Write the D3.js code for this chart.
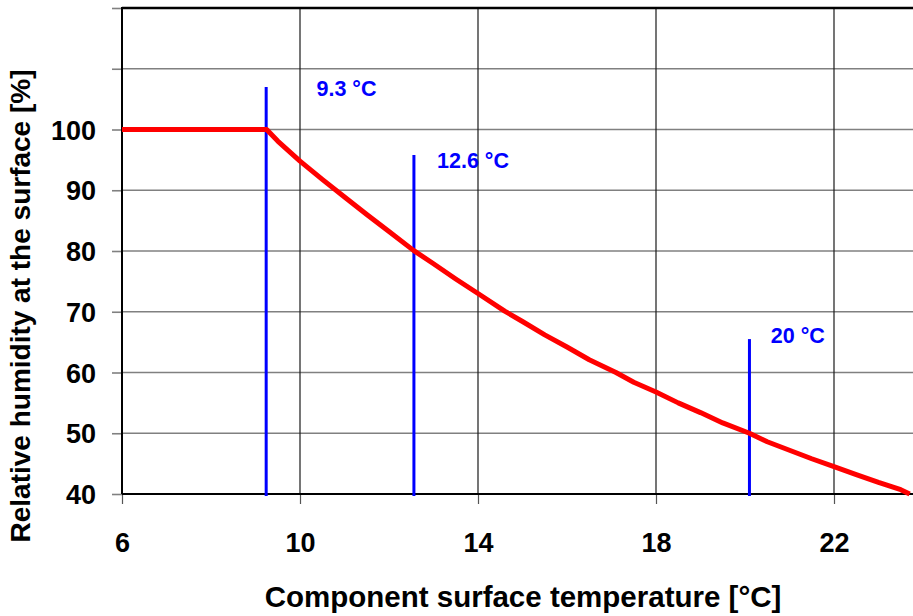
<!DOCTYPE html>
<html>
<head>
<meta charset="utf-8">
<script src="https://cdn.jsdelivr.net/npm/d3@7"></script>
<style>
  html, body { margin: 0; padding: 0; background: #fff; overflow: hidden; }
  svg { display: block; font-family: Arial, "Liberation Sans", sans-serif; }
</style>
</head>
<body>
<svg id="chart" width="913" height="616"></svg>
<script>
// ---- data ----
const xTicks = [6, 10, 14, 18, 22];
const yTicks = [40, 50, 60, 70, 80, 90, 100, 110, 120];
const yTickLabels = ["40", "50", "60", "70", "80", "90", "100", "", ""];
const temperature = [6, 9.25, 9.5, 10, 10.5, 11, 11.5, 12, 12.55, 13, 13.5, 14, 14.6, 15, 15.5, 16, 16.5, 17.1, 17.5, 18, 18.5, 19, 19.5, 20.1, 20.5, 21, 21.5, 22, 22.5, 23, 23.5, 23.7];
const humidity    = [100, 100, 98.1, 94.8, 91.8, 88.9, 86.0, 83.2, 80.1, 77.9, 75.4, 73.0, 70.1, 68.4, 66.2, 64.2, 62.1, 60.0, 58.4, 56.8, 55.0, 53.4, 51.7, 50.0, 48.6, 47.2, 45.8, 44.5, 43.2, 41.9, 40.7, 40.0];
const markerTemps = [9.24, 12.56, 20.1];
const markerTops  = [107, 95.8, 65.5];
const markerLabels = ["9.3 °C", "12.6 °C", "20 °C"];
const labelTemps = [10.37, 13.08, 20.58];
const labelHumidity = [105.5, 93.6, 64.9];
const xTitle = "Component surface temperature [°C]";
const yTitle = "Relative humidity at the surface [%]";

// ---- layout ----
const svg = d3.select("#chart");
const mLeft = 122, mTop = 8, mBottom = 494, mRight = 923;
const x = d3.scaleLinear().domain([6, 24]).range([mLeft, mRight]);
const y = d3.scaleLinear().domain([40, 120]).range([mBottom, mTop]);
const FONT = "Arial, 'Liberation Sans', sans-serif";

// horizontal grid
svg.append("g").selectAll("line").data(yTicks.filter(v => v > 40 && v < 120)).join("line")
  .attr("x1", mLeft).attr("x2", 913)
  .attr("y1", d => y(d)).attr("y2", d => y(d))
  .attr("stroke", "#808080").attr("stroke-width", 1.6);

// vertical grid
svg.append("g").selectAll("line").data(xTicks.filter(v => v > 6)).join("line")
  .attr("x1", d => x(d)).attr("x2", d => x(d))
  .attr("y1", mTop).attr("y2", mBottom)
  .attr("stroke", "#1a1a1a").attr("stroke-width", 1.2);

// axes
const yAxis = d3.axisLeft(y).tickValues(yTicks).tickSize(10).tickFormat((d, i) => yTickLabels[i]).tickPadding(16);
const gy = svg.append("g").attr("transform", `translate(${mLeft},0)`).call(yAxis);
gy.select(".domain").remove();
gy.selectAll(".tick line").attr("stroke", "#808080").attr("stroke-width", 1.6);
gy.selectAll(".tick text").attr("font-size", 27).attr("font-weight", "bold").attr("fill", "#000")
  .attr("font-family", FONT).attr("dy", "0.36em");

const xAxis = d3.axisBottom(x).tickValues(xTicks).tickSize(10).tickFormat(d3.format("d")).tickPadding(29);
const gx = svg.append("g").attr("transform", `translate(0,${mBottom})`).call(xAxis);
gx.select(".domain").remove();
gx.selectAll(".tick line").attr("stroke", "#555").attr("stroke-width", 1.2);
gx.selectAll(".tick text").attr("font-size", 27).attr("font-weight", "bold").attr("fill", "#000")
  .attr("font-family", FONT);

// frame lines
svg.append("line").attr("x1", mLeft).attr("x2", 913).attr("y1", mTop).attr("y2", mTop)
  .attr("stroke", "#000").attr("stroke-width", 2.5);
svg.append("line").attr("x1", mLeft).attr("x2", 913).attr("y1", mBottom).attr("y2", mBottom)
  .attr("stroke", "#000").attr("stroke-width", 2);
svg.append("line").attr("x1", mLeft).attr("x2", mLeft).attr("y1", mTop - 1).attr("y2", mBottom)
  .attr("stroke", "#000").attr("stroke-width", 2);

// marker lines
svg.append("g").selectAll("line").data(markerTemps).join("line")
  .attr("x1", d => x(d)).attr("x2", d => x(d))
  .attr("y1", (d, i) => y(markerTops[i])).attr("y2", mBottom + 2)
  .attr("stroke", "#0000ff").attr("stroke-width", 3);

// red curve
const pts = temperature.map((t, i) => [t, humidity[i]]);
svg.append("path").datum(pts)
  .attr("fill", "none").attr("stroke", "#ff0000").attr("stroke-width", 5)
  .attr("stroke-linejoin", "round")
  .attr("d", d3.line().x(d => x(d[0])).y(d => y(d[1])));

// marker labels
svg.append("g").selectAll("text").data(markerLabels).join("text")
  .attr("x", (d, i) => x(labelTemps[i]))
  .attr("y", (d, i) => y(labelHumidity[i]))
  .attr("font-size", 21.5).attr("font-weight", "bold").attr("fill", "#0000ff")
  .attr("font-family", FONT)
  .text(d => d);

// titles
svg.append("text").attr("x", 523).attr("y", 607).attr("text-anchor", "middle")
  .attr("font-size", 29.5).attr("font-weight", "bold").attr("font-family", FONT).text(xTitle);
svg.append("text").attr("transform", "translate(30,306) rotate(-90)").attr("text-anchor", "middle")
  .attr("font-size", 28).attr("font-weight", "bold").attr("font-family", FONT).text(yTitle);
</script>
</body>
</html>
